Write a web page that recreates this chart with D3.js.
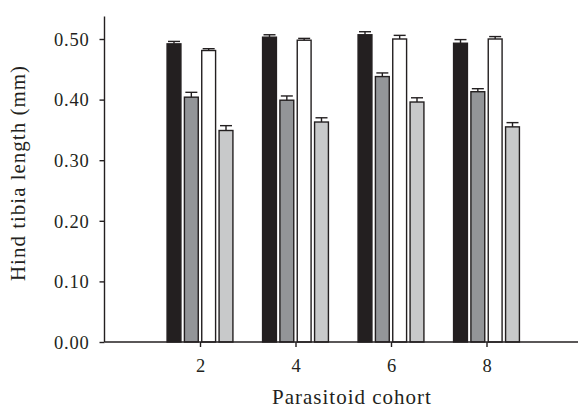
<!DOCTYPE html>
<html>
<head>
<meta charset="utf-8">
<script src="https://cdn.jsdelivr.net/npm/d3@7"></script>
<style>
  body { margin: 0; background: #fff; }
  svg text { font-family: "Liberation Serif", "DejaVu Serif", serif; fill: #231f20; }
</style>
</head>
<body>
<svg id="chart" width="578" height="410"></svg>
<script>
// cohorts on the x axis
var cohorts = [2, 4, 6, 8];
// four bar series per cohort (mean hind tibia length, mm)
var seriesA = [0.492, 0.503, 0.507, 0.493];
var seriesB = [0.404, 0.399, 0.438, 0.413];
var seriesC = [0.481, 0.498, 0.500, 0.500];
var seriesD = [0.349, 0.363, 0.396, 0.355];
// standard errors
var errA = [0.004, 0.004, 0.005, 0.006];
var errB = [0.008, 0.007, 0.006, 0.005];
var errC = [0.003, 0.003, 0.006, 0.004];
var errD = [0.008, 0.007, 0.007, 0.007];
var yTicks = [0, 0.1, 0.2, 0.3, 0.4, 0.5];

var fills = ["#231f20", "#939598", "#ffffff", "#c8c9ca"];
var series = [seriesA, seriesB, seriesC, seriesD];
var errs = [errA, errB, errC, errD];

var svg = d3.select("#chart");
var x = d3.scaleLinear().domain([0, 10]).range([104.5, 582]);
var y = d3.scaleLinear().domain([0, 0.5]).range([342, 39]);

var pitch = 0.363, barW = 0.29;

// build bar data
var bars = [];
series.forEach(function(s, si) {
  s.forEach(function(v, ci) {
    bars.push({ s: si, c: cohorts[ci], v: v, e: errs[si][ci] });
  });
});

var g = svg.append("g");

// bars
g.selectAll("rect.bar")
  .data(bars)
  .enter()
  .append("rect")
  .attr("class", "bar")
  .attr("x", function(d) { return x(d.c + (d.s - 1.5) * pitch - barW / 2); })
  .attr("width", function(d) { return x(barW) - x(0); })
  .attr("y", function(d) { return y(d.v); })
  .attr("height", function(d) { return y(0) - y(d.v); })
  .attr("fill", function(d) { return fills[d.s]; })
  .attr("stroke", "#231f20")
  .attr("stroke-width", 1.4);

// error bars
var eb = g.selectAll("g.err")
  .data(bars)
  .enter()
  .append("g")
  .attr("class", "err")
  .attr("stroke", "#231f20")
  .attr("stroke-width", 1.4);
eb.append("line")
  .attr("x1", function(d) { return x(d.c + (d.s - 1.5) * pitch); })
  .attr("x2", function(d) { return x(d.c + (d.s - 1.5) * pitch); })
  .attr("y1", function(d) { return y(d.v); })
  .attr("y2", function(d) { return y(d.v + d.e); });
eb.append("line")
  .attr("x1", function(d) { return x(d.c + (d.s - 1.5) * pitch) - 6; })
  .attr("x2", function(d) { return x(d.c + (d.s - 1.5) * pitch) + 6; })
  .attr("y1", function(d) { return y(d.v + d.e); })
  .attr("y2", function(d) { return y(d.v + d.e); });

// axes
var yAxis = d3.axisLeft(y).tickValues(yTicks).tickFormat(d3.format(".2f")).tickSize(5).tickSizeOuter(0);
var ya = svg.append("g").attr("transform", "translate(104.5,0)").call(yAxis);
ya.select(".domain").remove();
ya.append("line").attr("x1", 0).attr("x2", 0).attr("y1", y(0)).attr("y2", y(0.537))
  .attr("stroke", "#231f20").attr("stroke-width", 1.4);
ya.selectAll(".tick line").attr("stroke", "#231f20").attr("stroke-width", 1.4);
ya.selectAll(".tick text").attr("x", -15).attr("dy", "0.34em")
  .style("font-size", "18.5px").style("letter-spacing", "0.8px").attr("fill", "#231f20");

var xAxis = d3.axisBottom(x).tickValues(cohorts).tickSize(5).tickSizeOuter(0);
var xa = svg.append("g").attr("transform", "translate(0,342)").call(xAxis);
xa.select(".domain").remove();
xa.append("line").attr("x1", x(0)).attr("x2", 578).attr("y1", 0).attr("y2", 0)
  .attr("stroke", "#231f20").attr("stroke-width", 1.4);
xa.selectAll(".tick line").attr("stroke", "#231f20").attr("stroke-width", 1.4);
xa.selectAll(".tick text").attr("y", 17).attr("dy", "0.71em")
  .style("font-size", "18.5px").attr("fill", "#231f20");

// axis titles
svg.append("text")
  .attr("x", 352).attr("y", 404)
  .attr("text-anchor", "middle")
  .style("font-size", "21px")
  .style("letter-spacing", "1px")
  .text("Parasitoid cohort");
svg.append("text")
  .attr("transform", "translate(24.5,173) rotate(-90)")
  .attr("text-anchor", "middle")
  .style("font-size", "21px")
  .style("letter-spacing", "1px")
  .text("Hind tibia length (mm)");
</script>
</body>
</html>
